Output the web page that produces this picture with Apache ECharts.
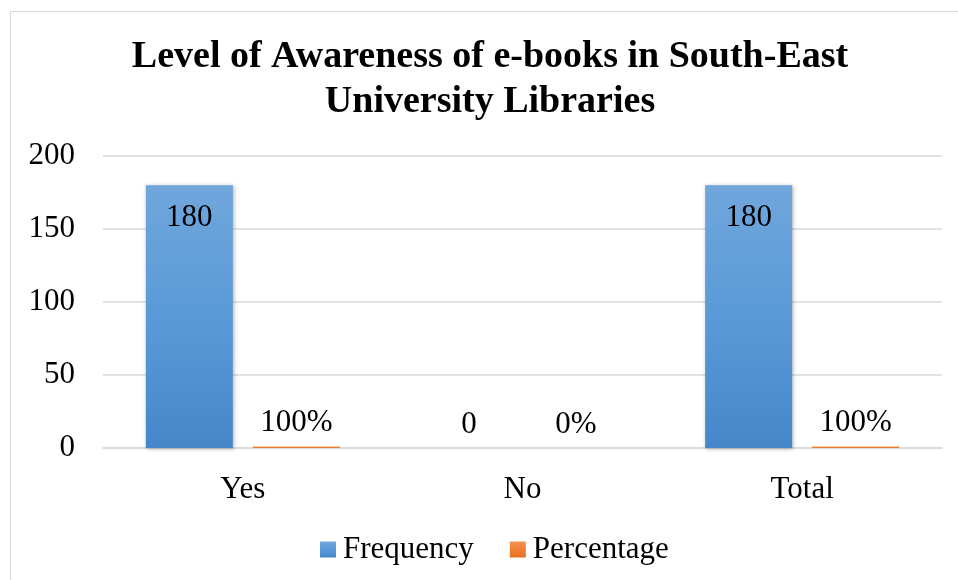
<!DOCTYPE html>
<html>
<head>
<meta charset="utf-8">
<script src="https://cdn.jsdelivr.net/npm/echarts@6/dist/echarts.min.js"></script>
<style>
  html, body { margin: 0; padding: 0; background: #fff; }
  #chart { width: 958px; height: 580px; }
</style>
</head>
<body>
<div id="chart"></div>
<script>
// Survey data: awareness of e-books
const categories = ['Yes', 'No', 'Total'];
const frequency = [180, 0, 180];
const percentage = [1, 0, 1];          // shares as fractions (1 = 100%)
const yTicks = { min: 0, max: 200, interval: 50 };

const SERIF = '"Liberation Serif", "Times New Roman", serif';
const FS = 31;

const blueFill = new echarts.graphic.LinearGradient(0, 0, 0, 1, [
  { offset: 0, color: '#70a6dc' },
  { offset: 0.5, color: '#5a9ad8' },
  { offset: 1, color: '#4587c9' }
]);
const orangeFill = new echarts.graphic.LinearGradient(0, 0, 0, 1, [
  { offset: 0, color: '#f4924f' },
  { offset: 1, color: '#e8701f' }
]);

const chart = echarts.init(document.getElementById('chart'));

chart.setOption({
  backgroundColor: '#ffffff',
  animation: false,
  title: {
    text: 'Level of Awareness of e-books in South-East\nUniversity Libraries',
    left: 490,
    top: 35,
    textAlign: 'center',
    padding: 0,
    textStyle: {
      fontFamily: SERIF,
      fontWeight: 'bold',
      fontSize: 38,
      lineHeight: 45,
      color: '#000'
    }
  },
  graphic: [{
    type: 'rect',
    shape: { x: 10.5, y: 11.5, width: 980, height: 600 },
    style: { fill: 'none', stroke: '#d9d9d9', lineWidth: 1 },
    silent: true,
    z: -1
  }],
  legend: {
    data: ['Frequency', 'Percentage'],
    left: 315,
    top: 529,
    itemWidth: 16,
    itemHeight: 16,
    itemGap: 36,
    icon: 'rect',
    textStyle: { fontFamily: SERIF, fontSize: FS, color: '#000', padding: [0, 0, 0, 2] }
  },
  grid: { left: 103, right: 16, top: 156, bottom: 132, containLabel: false },
  xAxis: {
    type: 'category',
    data: categories,
    axisLine: { lineStyle: { color: '#d9d9d9', width: 1.5 } },
    axisTick: { show: false },
    axisLabel: { fontFamily: SERIF, fontSize: FS, color: '#000', margin: 26 }
  },
  yAxis: {
    type: 'value',
    min: yTicks.min,
    max: yTicks.max,
    interval: yTicks.interval,
    axisLine: { show: false },
    axisTick: { show: false },
    axisLabel: { fontFamily: SERIF, fontSize: FS, color: '#000', margin: 28 },
    splitLine: { lineStyle: { color: '#d9d9d9', width: 1.5 } }
  },
  series: [
    {
      name: 'Frequency',
      type: 'bar',
      barWidth: 87,
      barGap: '23%',
      data: frequency.map(v => ({
        value: v,
        label: v > 0 ? { position: 'insideTop', distance: 17 } : { position: 'top', distance: 8 }
      })),
      itemStyle: {
        color: blueFill,
        shadowBlur: 4,
        shadowColor: 'rgba(0,0,0,0.3)',
        shadowOffsetX: 1,
        shadowOffsetY: 1
      },
      label: {
        show: true,
        fontFamily: SERIF,
        fontSize: FS,
        color: '#000'
      }
    },
    {
      name: 'Percentage',
      type: 'bar',
      barWidth: 87,
      data: percentage,
      itemStyle: { color: orangeFill },
      label: {
        show: true,
        position: 'top',
        distance: 8,
        fontFamily: SERIF,
        fontSize: FS,
        color: '#000',
        formatter: p => Math.round(p.value * 100) + '%'
      }
    }
  ]
});
</script>
</body>
</html>
